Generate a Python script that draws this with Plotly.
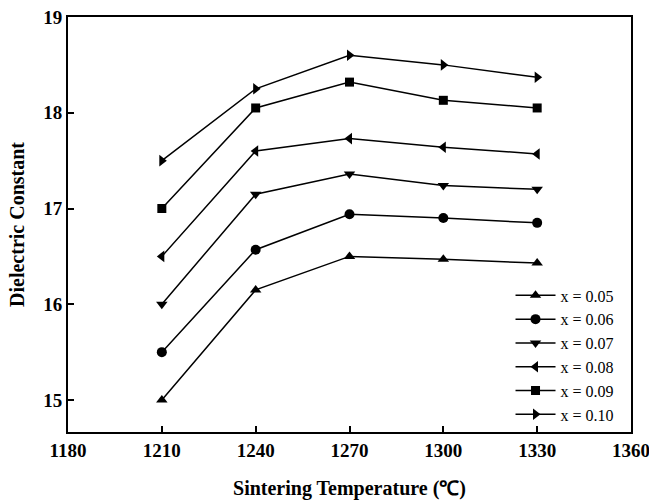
import plotly.graph_objects as go

temps = [1210, 1240, 1270, 1300, 1330]
series_names = ["x = 0.05", "x = 0.06", "x = 0.07", "x = 0.08", "x = 0.09", "x = 0.10"]
x005 = [15.0, 16.15, 16.5, 16.47, 16.43]
x006 = [15.5, 16.57, 16.94, 16.9, 16.85]
x007 = [16.0, 17.15, 17.36, 17.24, 17.2]
x008 = [16.5, 17.6, 17.73, 17.64, 17.57]
x009 = [17.0, 18.05, 18.32, 18.13, 18.05]
x010 = [17.5, 18.25, 18.6, 18.5, 18.37]
x_ticks = [1180, 1210, 1240, 1270, 1300, 1330, 1360]
y_ticks = [15, 16, 17, 18, 19]

values = [x005, x006, x007, x008, x009, x010]
symbols = ["triangle-up", "circle", "triangle-down", "triangle-left", "square", "triangle-right"]
sizes = [10, 10, 10, 10, 9, 10]

fig = go.Figure()
for name, vals, sym, sz in zip(series_names, values, symbols, sizes):
    fig.add_trace(go.Scatter(
        x=temps, y=vals, name=name, mode="lines+markers",
        line=dict(color="black", width=1.5),
        marker=dict(symbol=sym, size=sz, color="black"),
    ))

font_fam = "Liberation Serif, Times New Roman, serif"
fig.update_layout(
    width=649, height=501,
    margin=dict(l=68, r=18, t=17, b=69),
    paper_bgcolor="white", plot_bgcolor="white",
    font=dict(family=font_fam, color="black"),
    showlegend=True,
    legend=dict(x=0.786, y=0.37, xanchor="left", yanchor="top",
                font=dict(family=font_fam, size=16, color="black"),
                bgcolor="rgba(0,0,0,0)", tracegroupgap=0, itemwidth=40),
    xaxis=dict(
        range=[1180, 1360], tickvals=x_ticks, ticktext=[str(v) for v in x_ticks],
        ticks="inside", ticklen=6, tickwidth=1.5, tickcolor="black",
        showline=True, linecolor="black", linewidth=2, mirror=True,
        showgrid=False, zeroline=False, automargin=False, ticklabeloverflow="allow",
        tickfont=dict(family=font_fam, size=19, color="black", weight="bold"),
        title=dict(text="<b>Sintering Temperature (℃)</b>", standoff=21,
                   font=dict(family=font_fam, size=20, color="black")),
    ),
    yaxis=dict(
        range=[14.666, 19], tickvals=y_ticks, ticktext=[str(v) for v in y_ticks],
        ticks="inside", ticklen=6, tickwidth=1.5, tickcolor="black",
        showline=True, linecolor="black", linewidth=2, mirror=True,
        showgrid=False, zeroline=False, automargin=False, ticklabeloverflow="allow",
        tickfont=dict(family=font_fam, size=19, color="black", weight="bold"),
        title=dict(text="<b>Dielectric Constant</b>", standoff=13,
                   font=dict(family=font_fam, size=20, color="black")),
    ),
)

fig.write_html("out.html", config={"displayModeBar": False},
               post_script="document.body.style.margin='0';document.body.style.overflow='hidden';")
